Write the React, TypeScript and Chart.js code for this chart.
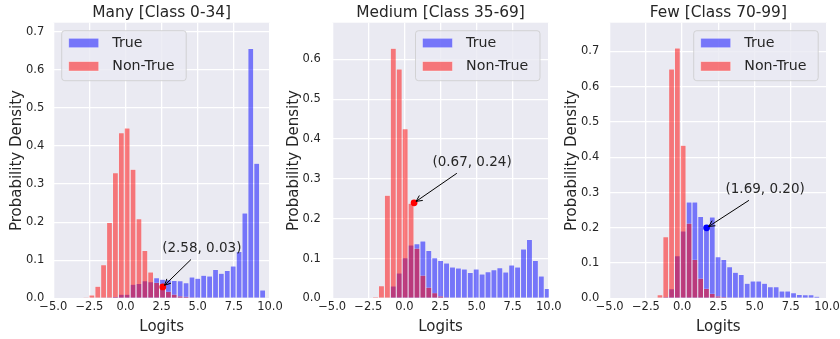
import React, { useEffect, useRef } from "react";
import { Chart, registerables } from "chart.js";

Chart.register(...registerables);

const FONT = "'DejaVu Sans', 'Liberation Sans', sans-serif";
const TEXT = "#262626";
const BG = "#EAEAF2";
const BLUE = "rgba(0, 0, 255, 0.5)";
const RED = "rgba(255, 0, 0, 0.5)";
const EDGE = "rgba(255, 255, 255, 0.5)";
const SOLID = ["#0000FF", "#FF0000"];

const SERIES = ["True", "Non-True"];
const TITLES = ["Many [Class 0-34]", "Medium [Class 35-69]", "Few [Class 70-99]"];
const X_LABEL = "Logits";
const Y_LABEL = "Probability Density";

// ---------- Many [Class 0-34] ----------
const MANY_BINS = [-2.74, -2.33, -1.92, -1.52, -1.11, -0.7, -0.29, 0.11, 0.52, 0.93, 1.34, 1.74, 2.15, 2.56, 2.97, 3.37, 3.78, 4.19, 4.6, 5.0, 5.41, 5.82, 6.23, 6.63, 7.04, 7.45, 7.86, 8.26, 8.67, 9.08, 9.49];
const MANY_TRUE = [0, 0, 0, 0.001, 0.003, 0.005, 0.011, 0.011, 0.037, 0.039, 0.046, 0.044, 0.054, 0.05, 0.049, 0.047, 0.046, 0.041, 0.056, 0.053, 0.061, 0.059, 0.076, 0.066, 0.073, 0.085, 0.123, 0.224, 0.656, 0.355, 0.022];
const MANY_NONTRUE = [0.003, 0.009, 0.032, 0.088, 0.199, 0.33, 0.435, 0.447, 0.339, 0.209, 0.126, 0.069, 0.042, 0.027, 0.018, 0.011, 0.006, 0.005, 0.003, 0.002, 0.001, 0.001, 0.001, 0, 0, 0, 0, 0, 0, 0, 0];

// ---------- Medium [Class 35-69] ----------
const MEDIUM_BINS = [-2.0, -1.59, -1.18, -0.77, -0.36, 0.05, 0.46, 0.87, 1.28, 1.69, 2.1, 2.51, 2.92, 3.33, 3.74, 4.15, 4.56, 4.97, 5.38, 5.79, 6.2, 6.61, 7.02, 7.43, 7.84, 8.25, 8.66, 9.07, 9.48, 9.89];
const MEDIUM_TRUE = [0, 0, 0.002, 0.031, 0.064, 0.102, 0.134, 0.137, 0.144, 0.12, 0.102, 0.095, 0.089, 0.079, 0.076, 0.074, 0.065, 0.074, 0.061, 0.067, 0.072, 0.077, 0.066, 0.084, 0.079, 0.124, 0.148, 0.095, 0.056, 0.025];
const MEDIUM_NONTRUE = [0.004, 0.032, 0.259, 0.628, 0.576, 0.426, 0.239, 0.126, 0.058, 0.028, 0.014, 0.006, 0.003, 0.002, 0.001, 0.001, 0, 0, 0, 0, 0, 0, 0, 0, 0, 0, 0, 0, 0, 0];

// ---------- Few [Class 70-99] ----------
const FEW_BINS = [-1.53, -1.13, -0.73, -0.33, 0.07, 0.48, 0.88, 1.28, 1.68, 2.08, 2.48, 2.88, 3.28, 3.68, 4.08, 4.49, 4.89, 5.29, 5.69, 6.09, 6.49, 6.89, 7.29, 7.69, 8.09, 8.5, 8.9, 9.3];
const FEW_TRUE = [0, 0.005, 0.027, 0.121, 0.191, 0.273, 0.273, 0.232, 0.2, 0.231, 0.118, 0.11, 0.09, 0.074, 0.068, 0.043, 0.049, 0.049, 0.043, 0.033, 0.033, 0.021, 0.021, 0.016, 0.011, 0.01, 0.01, 0.006];
const FEW_NONTRUE = [0.01, 0.175, 0.65, 0.71, 0.434, 0.213, 0.11, 0.057, 0.028, 0.014, 0.007, 0.004, 0.002, 0.001, 0.001, 0, 0, 0, 0, 0, 0, 0, 0, 0, 0, 0, 0, 0];

const BINS = [MANY_BINS, MEDIUM_BINS, FEW_BINS];
const TRUE_VALS = [MANY_TRUE, MEDIUM_TRUE, FEW_TRUE];
const NONTRUE_VALS = [MANY_NONTRUE, MEDIUM_NONTRUE, FEW_NONTRUE];

// annotated points
const MARK_X = [2.58, 0.67, 1.69];
const MARK_Y = [0.03, 0.24, 0.2];
const MARK_TEXT = ["(2.58, 0.03)", "(0.67, 0.24)", "(1.69, 0.20)"];
const MARK_SERIES = [1, 1, 0];

// axis ranges
const X_MIN = -5;
const X_MAX = 10;
const X_STEP = 2.5;
const Y_STEP = 0.1;
const Y_MAX = [0.7236, 0.692, 0.7815];

// ---------- layout (style) ----------
const CANVAS_W = 300;
const CANVAS_H = 339;
const LEFTS = [0, 280, 560];
const PLOT_L = [53.3, 52.2, 49.7];
const PLOT_R = [270.0, 268.8, 267.0];
const PLOT_T = 22.7;
const PLOT_B = 298.4;
const Y_TICK_PAD = [9, 11.5, 10.5];
const Y_TITLE_X = [17, 14, 12.5];
const LEGEND_AT_LEFT = [true, false, false];
const ANNOT_OFFSET = [
  [39, -38],
  [58, -40],
  [58.5, -38],
];

function fmtX(v: number) {
  return Number(v).toFixed(1).replace("-", "\u2212");
}

function makeOverlay(i: number) {
  return {
    id: "overlay" + i,
    beforeDraw(chart: any) {
      const { ctx, chartArea: a } = chart;
      ctx.save();
      ctx.fillStyle = BG;
      ctx.fillRect(a.left, a.top, a.right - a.left, a.bottom - a.top);
      ctx.restore();
    },
    afterDraw(chart: any) {
      const { ctx, chartArea: a, scales } = chart;
      ctx.save();
      // title
      ctx.fillStyle = TEXT;
      ctx.font = `15.4px ${FONT}`;
      ctx.textAlign = "center";
      ctx.textBaseline = "alphabetic";
      ctx.fillText(TITLES[i], (a.left + a.right) / 2, 16.7);

      // legend
      const bw = 124.5;
      const bh = 50;
      const bx = LEGEND_AT_LEFT[i] ? a.left + 8.4 : a.right - 8.8 - bw;
      const by = a.top + 8;
      const r = 3;
      ctx.beginPath();
      ctx.moveTo(bx + r, by);
      ctx.lineTo(bx + bw - r, by);
      ctx.arcTo(bx + bw, by, bx + bw, by + r, r);
      ctx.lineTo(bx + bw, by + bh - r);
      ctx.arcTo(bx + bw, by + bh, bx + bw - r, by + bh, r);
      ctx.lineTo(bx + r, by + bh);
      ctx.arcTo(bx, by + bh, bx, by + bh - r, r);
      ctx.lineTo(bx, by + r);
      ctx.arcTo(bx, by, bx + r, by, r);
      ctx.closePath();
      ctx.fillStyle = "rgba(234,234,242,0.8)";
      ctx.fill();
      ctx.strokeStyle = "rgba(204,204,204,0.8)";
      ctx.lineWidth = 1;
      ctx.stroke();
      const colors = [BLUE, RED];
      const rows = [12.3, 35.6];
      ctx.font = `14.2px ${FONT}`;
      ctx.textAlign = "left";
      ctx.textBaseline = "middle";
      for (let k = 0; k < 2; k++) {
        const cy = by + rows[k];
        ctx.fillStyle = colors[k];
        ctx.fillRect(bx + 7, cy - 4.7, 30, 9.4);
        ctx.strokeStyle = EDGE;
        ctx.lineWidth = 0.8;
        ctx.strokeRect(bx + 7, cy - 4.7, 30, 9.4);
        ctx.fillStyle = TEXT;
        ctx.fillText(SERIES[k], bx + 50.6, cy);
      }

      // annotation
      const px = scales.x.getPixelForValue(MARK_X[i]);
      const py = scales.y.getPixelForValue(MARK_Y[i]);
      const tx = px + ANNOT_OFFSET[i][0];
      const ty = py + ANNOT_OFFSET[i][1];
      ctx.fillStyle = TEXT;
      ctx.font = `13.5px ${FONT}`;
      ctx.textAlign = "center";
      ctx.textBaseline = "middle";
      ctx.fillText(MARK_TEXT[i], tx, ty);
      const vx = px - tx;
      const vy = py - ty;
      const len = Math.hypot(vx, vy);
      const ux = vx / len;
      const uy = vy / len;
      const t0 = 10.5 / Math.abs(uy);
      const sx = tx + ux * t0;
      const sy = ty + uy * t0;
      const ex = px - ux * 2.5;
      const ey = py - uy * 2.5;
      ctx.strokeStyle = "#000";
      ctx.lineWidth = 1;
      ctx.beginPath();
      ctx.moveTo(sx, sy);
      ctx.lineTo(ex, ey);
      const hl = 6;
      const hw = 3;
      ctx.moveTo(ex - ux * hl - uy * hw, ey - uy * hl + ux * hw);
      ctx.lineTo(ex, ey);
      ctx.lineTo(ex - ux * hl + uy * hw, ey - uy * hl - ux * hw);
      ctx.stroke();
      ctx.restore();
    },
  };
}

function Panel({ idx }: { idx: number }) {
  const ref = useRef<HTMLCanvasElement | null>(null);
  useEffect(() => {
    if (!ref.current) return;
    const bins = BINS[idx];
    const barCommon = {
      type: "bar" as const,
      grouped: false,
      barPercentage: 1,
      categoryPercentage: 1,
      inflateAmount: 0,
      borderColor: EDGE,
      borderWidth: 0.5,
      borderSkipped: "start" as const,
    };
    const gridOpts = { color: "#FFFFFF", lineWidth: 1.3, drawTicks: false, offset: false };
    const chart = new Chart(ref.current, {
      type: "bar",
      data: {
        datasets: [
          {
            ...barCommon,
            label: SERIES[0],
            data: bins.map((b, k) => ({ x: b, y: TRUE_VALS[idx][k] })),
            backgroundColor: BLUE,
            order: 2,
          },
          {
            ...barCommon,
            label: SERIES[1],
            data: bins.map((b, k) => ({ x: b, y: NONTRUE_VALS[idx][k] })),
            backgroundColor: RED,
            order: 1,
          },
          {
            type: "scatter" as const,
            label: "mark",
            data: [{ x: MARK_X[idx], y: MARK_Y[idx] }],
            backgroundColor: SOLID[MARK_SERIES[idx]],
            borderWidth: 0,
            pointRadius: 3.4,
            order: 0,
          },
        ] as any,
      },
      options: {
        animation: false,
        responsive: false,
        events: [],
        layout: { padding: { left: 0, top: PLOT_T, right: CANVAS_W - PLOT_R[idx], bottom: 0 } },
        plugins: {
          legend: { display: false },
          title: { display: false },
          tooltip: { enabled: false },
        },
        scales: {
          x: {
            type: "linear",
            min: X_MIN,
            max: X_MAX,
            offset: false,
            grid: gridOpts,
            border: { display: false },
            ticks: {
              stepSize: X_STEP,
              autoSkip: false,
              maxRotation: 0,
              includeBounds: false,
              padding: 2,
              color: TEXT,
              font: { family: FONT, size: 11.5 },
              callback: (v: any) => fmtX(v),
            },
            title: {
              display: true,
              text: X_LABEL,
              color: TEXT,
              font: { family: FONT, size: 15 },
              padding: { top: 0, bottom: 2.5 },
            },
            afterFit: (s: any) => {
              s.height = CANVAS_H - PLOT_B;
              s.paddingLeft = 0;
              s.paddingRight = 0;
            },
          },
          y: {
            type: "linear",
            min: 0,
            max: Y_MAX[idx],
            grid: gridOpts,
            border: { display: false },
            ticks: {
              stepSize: Y_STEP,
              includeBounds: false,
              padding: Y_TICK_PAD[idx],
              color: TEXT,
              font: { family: FONT, size: 11.5 },
              callback: (v: any) => Number(v).toFixed(1),
            },
            title: {
              display: true,
              text: Y_LABEL,
              color: TEXT,
              font: { family: FONT, size: 15 },
              padding: { top: Y_TITLE_X[idx] - 9, bottom: 0 },
            },
            afterFit: (s: any) => {
              s.width = PLOT_L[idx];
              s.paddingTop = 0;
              s.paddingBottom = 0;
            },
          },
        },
      } as any,
      plugins: [makeOverlay(idx)],
    });
    return () => chart.destroy();
  }, [idx]);
  return (
    <canvas
      ref={ref}
      width={CANVAS_W}
      height={CANVAS_H}
      style={{ position: "absolute", left: LEFTS[idx], top: 0, width: CANVAS_W, height: CANVAS_H }}
    />
  );
}

export default function App() {
  return (
    <div
      style={{
        position: "absolute",
        left: 0,
        top: 0,
        width: 840,
        height: 339,
        overflow: "hidden",
        background: "#FFFFFF",
      }}
    >
      <Panel idx={0} />
      <Panel idx={1} />
      <Panel idx={2} />
    </div>
  );
}
